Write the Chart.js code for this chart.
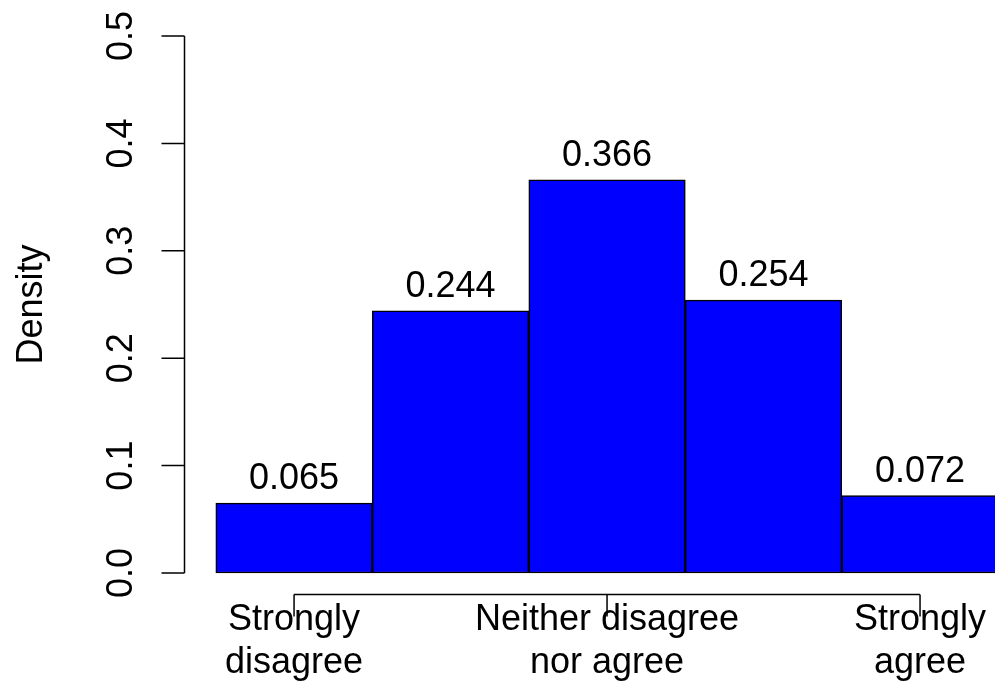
<!DOCTYPE html>
<html>
<head>
<meta charset="utf-8">
<script src="https://cdn.jsdelivr.net/npm/chart.js@4"></script>
<style>
  body { margin: 0; background: #fff; }
  #wrap { width: 995px; height: 687px; position: relative; }
</style>
</head>
<body>
<div id="wrap"><canvas id="myChart"></canvas></div>
<script>
// histogram bins (1..5 = the five answer levels)
const binCenters = [1, 2, 3, 4, 5];
const density = [0.065, 0.244, 0.366, 0.254, 0.072];
const xTickValues = [1, 3, 5];
const xTickLabels = [['Strongly', 'disagree'], ['Neither disagree', 'nor agree'], ['Strongly', 'agree']];
const yTicks = [0, 0.1, 0.2, 0.3, 0.4, 0.5];
const yTickLabels = ['0.0', '0.1', '0.2', '0.3', '0.4', '0.5'];
const yTitle = 'Density';

const font = '36px "Liberation Sans", Arial, sans-serif';

var points = binCenters.map((x, i) => ({ x: x, y: density[i] }));

// R-style axes and labels, drawn from the chart scales
const rAxes = {
  id: 'rAxes',
  afterDraw(chart) {
    const ctx = chart.ctx;
    const xs = chart.scales.x;
    const ys = chart.scales.y;
    const area = chart.chartArea;
    ctx.save();
    ctx.strokeStyle = '#000';
    ctx.fillStyle = '#000';
    ctx.lineWidth = 1.5;
    ctx.font = font;

    // y axis
    const left = area.left;
    ctx.beginPath();
    ctx.moveTo(left, ys.getPixelForValue(yTicks[0]));
    ctx.lineTo(left, ys.getPixelForValue(yTicks[yTicks.length - 1]));
    yTicks.forEach(v => {
      const py = ys.getPixelForValue(v);
      ctx.moveTo(left, py);
      ctx.lineTo(left - 23, py);
    });
    ctx.stroke();
    ctx.textAlign = 'center';
    ctx.textBaseline = 'alphabetic';
    yTicks.forEach((v, i) => {
      const py = ys.getPixelForValue(v);
      ctx.save();
      ctx.translate(left - 53, py);
      ctx.rotate(-Math.PI / 2);
      ctx.fillText(yTickLabels[i], 0, 0);
      ctx.restore();
    });
    ctx.save();
    ctx.translate(42, (area.top + area.bottom) / 2);
    ctx.rotate(-Math.PI / 2);
    ctx.fillText(yTitle, 0, 0);
    ctx.restore();

    // x axis
    const bottom = area.bottom;
    ctx.beginPath();
    ctx.moveTo(xs.getPixelForValue(xTickValues[0]), bottom);
    ctx.lineTo(xs.getPixelForValue(xTickValues[xTickValues.length - 1]), bottom);
    xTickValues.forEach(v => {
      const px = xs.getPixelForValue(v);
      ctx.moveTo(px, bottom);
      ctx.lineTo(px, bottom + 22);
    });
    ctx.stroke();
    xTickValues.forEach((v, i) => {
      const px = xs.getPixelForValue(v);
      xTickLabels[i].forEach((line, j) => {
        ctx.fillText(line, px, bottom + 35 + j * 43);
      });
    });

    // value labels above bars
    points.forEach(p => {
      ctx.fillText(p.y.toFixed(3), xs.getPixelForValue(p.x), ys.getPixelForValue(p.y) - 14);
    });
    ctx.restore();
  }
};

var config = {
  type: 'bar',
  data: {
    datasets: [{
      label: yTitle,
      data: points,
      backgroundColor: '#0000ff',
      borderColor: '#000000',
      borderWidth: 1.5,
      borderSkipped: false,
      barPercentage: 1,
      categoryPercentage: 1
    }]
  },
  options: {
    responsive: true,
    maintainAspectRatio: false,
    animation: false,
    layout: { padding: { left: 184.5, top: 14.5, bottom: 92.5, right: 0 } },
    plugins: { legend: { display: false }, tooltip: { enabled: false } },
    scales: {
      x: {
        type: 'linear', min: 0.3, max: 5.479, offset: false, display: false,
        // one tick per bin so the bars get the full bin width
        afterBuildTicks: s => { s.ticks = binCenters.map(v => ({ value: v })); }
      },
      y: { min: -0.02, max: 0.52, display: false }
    }
  },
  plugins: [rAxes]
};

var myChart = new Chart(document.getElementById('myChart').getContext('2d'), config);
</script>
</body>
</html>
